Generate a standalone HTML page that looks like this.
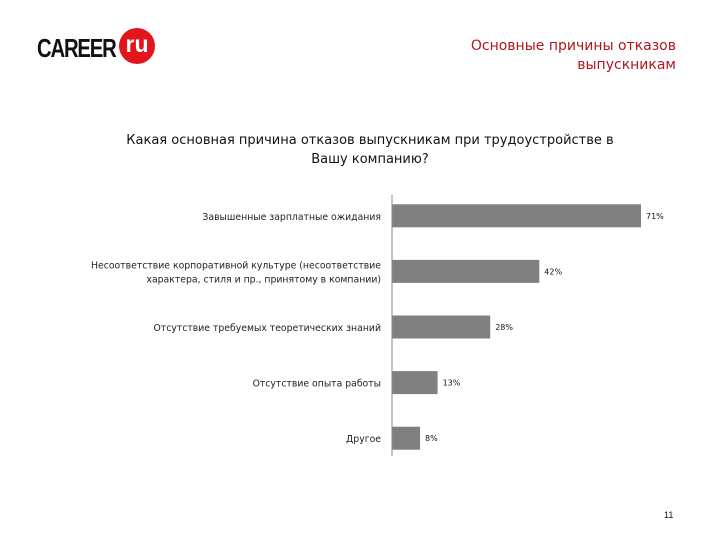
<!DOCTYPE html>
<html><head><meta charset="utf-8"><style>
body{margin:0;width:720px;height:540px;background:#fff;font-family:"Liberation Sans",sans-serif;position:relative;overflow:hidden}
.abs{position:absolute}
</style></head><body>
<div class="abs" style="left:37px;top:30px;height:34px;">
<span style="position:absolute;left:0;top:3px;font-size:26px;font-weight:bold;letter-spacing:-1.5px;color:#111;transform:scaleX(0.78);transform-origin:left;white-space:nowrap">CAREER</span>
<span style="position:absolute;left:82px;top:-2px;width:36px;height:36px;border-radius:50%;background:#e2141c;color:#fff;font-size:23px;font-weight:bold;text-align:center;line-height:33px">ru</span>
</div>
<div class="abs" style="right:44px;top:37px;text-align:right;color:#b0161e;font-size:14px;line-height:19px;font-family:'DejaVu Sans',sans-serif">Основные причины отказов<br>выпускникам</div>
<div class="abs" style="left:90px;width:560px;top:131px;text-align:center;font-size:13px;line-height:19px;color:#111;font-family:'DejaVu Sans',sans-serif">Какая основная причина отказов выпускникам при трудоустройстве в<br>Вашу компанию?</div>
<svg class="abs" style="left:0;top:0" width="720" height="540" id="chart"></svg>
<div class="abs" style="left:664px;top:510px;font-size:9px;color:#111">11</div>
<script>
const categories=["Завышенные зарплатные ожидания","Несоответствие корпоративной культуре (несоответствие\nхарактера, стиля и пр., принятому в компании)","Отсутствие требуемых теоретических знаний","Отсутствие опыта работы","Другое"];
const values=[71,42,28,13,8];
const labels=["71%","42%","28%","13%","8%"];
const svg=document.getElementById('chart');
const NS='http://www.w3.org/2000/svg';
const x0=392,pxPer=3.507,yTop=188,band=55.6,barH=23;
const xs=v=>x0+v*pxPer;
const yc=i=>yTop+band*(i+0.5);
function mk(t,a){const e=document.createElementNS(NS,t);for(const k in a)e.setAttribute(k,a[k]);svg.appendChild(e);return e;}
values.forEach((v,i)=>{
 const r=mk('rect',{x:x0,y:yc(i)-barH/2,width:xs(v)-x0,height:barH,fill:'#808080'});
 
 
 const t=mk('text',{x:xs(v)+5,y:yc(i)+3,'font-size':'8','font-family':'DejaVu Sans, sans-serif',fill:'#111'});
 t.textContent=labels[i];
 
 
 const lines=categories[i].split('\n');
 lines.forEach((ln,j)=>{
  const c=mk('text',{x:381,y:yc(i)+4+(j-(lines.length-1)/2)*14,'text-anchor':'end','font-size':'9.3','font-family':'DejaVu Sans, sans-serif',fill:'#222'});
  c.textContent=ln;
  
  
 });
});
const ax=mk('line',{x1:x0,x2:x0,y1:195,y2:456,stroke:'#888','stroke-width':1});


</script>
</body></html>
